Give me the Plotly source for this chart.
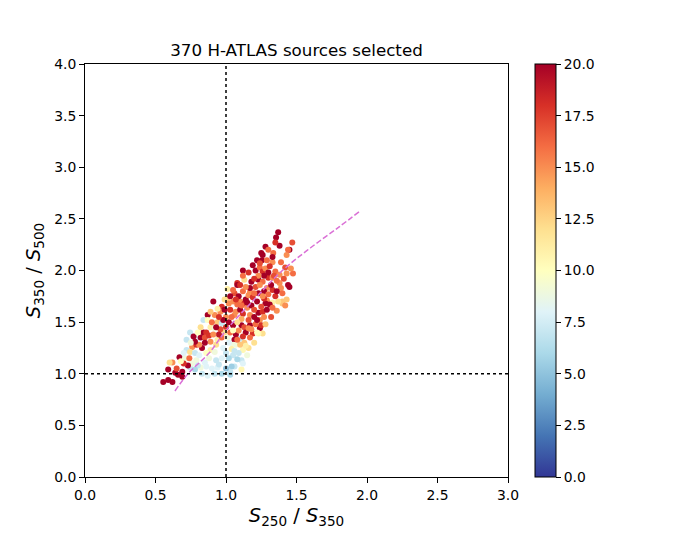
import plotly.graph_objects as go

# S250/S350 colour
x_ratio = [1.37, 1.355, 1.28, 1.47, 1.45, 1.43, 1.44, 1.26, 1.22, 1.255, 1.335, 1.33, 1.12, 1.21, 1.24, 1.26, 1.28, 1.35, 1.38, 1.43,
           1.475, 1.45, 1.44, 1.38, 1.08, 1.13, 1.18, 1.23, 1.26, 1.30, 1.33, 1.29, 1.33, 1.17, 1.23, 1.06, 1.05, 1.10, 1.22, 1.29,
           1.33, 1.40, 1.08, 1.13, 1.28, 1.31, 1.40, 1.42, 1.36, 1.23, 1.26, 1.17, 1.06, 1.24, 1.11, 1.17, 1.05, 1.13, 1.24, 1.26,
           1.19, 1.23, 1.06, 1.10, 1.16, 1.12, 1.05, 1.11, 1.05, 1.06, 1.04, 1.11, 1.03,
           0.91, 0.97, 0.87, 0.92, 0.96, 0.84, 0.87, 0.94, 0.97, 0.89, 0.92, 0.84, 0.86, 0.745, 0.72, 0.79, 0.77, 0.82, 0.85, 0.89,
           0.94, 0.97, 0.76, 0.79, 0.83, 0.72, 0.745, 0.78, 0.89, 0.92, 0.67, 0.71, 0.62, 0.60, 0.79, 0.85, 0.93, 0.745, 0.59, 0.69,
           0.64, 0.82, 0.86, 0.94, 0.555, 0.59, 0.62, 0.66, 0.69, 1.01, 1.08, 1.01,
           1.00, 1.02, 1.04, 1.07, 1.10, 1.12, 1.15, 1.18, 1.20, 1.14, 1.16, 1.19, 1.21, 1.24, 1.27, 1.30, 1.35, 1.32, 1.36, 1.39,
           1.41, 1.27, 1.31, 1.23, 1.20, 1.17, 1.12, 1.09, 1.03, 1.00, 0.98, 0.99, 1.01, 1.03, 1.07, 1.09, 1.14, 1.16, 1.20, 1.21,
           1.27, 1.29, 1.33, 1.25, 1.11, 1.08, 1.05, 1.02, 1.04, 1.07, 1.09, 1.13, 1.17, 1.20, 1.25, 1.18, 0.96, 0.95, 0.93, 0.98,
           1.00, 1.02, 0.97, 0.95, 0.90, 0.88, 0.86, 0.81, 0.80, 0.76, 0.73, 0.70, 0.74, 0.78, 0.83, 0.87, 0.92, 0.97, 1.00, 1.03,
           0.81, 0.85, 0.88, 0.91, 0.93, 0.90, 0.95, 0.99, 1.02, 0.99, 0.94, 0.89, 0.82, 0.80, 0.78, 0.75, 0.70, 0.68, 0.65, 1.12,
           1.16, 1.19, 1.24, 1.29, 1.33, 1.39, 1.42, 1.46, 1.38, 1.35, 1.30, 1.25, 1.40, 1.43, 1.37, 1.32, 1.28, 1.22, 1.15, 1.12,
           1.08, 1.06, 1.14, 1.10, 1.08, 1.12, 1.16, 1.22, 1.27, 1.20, 1.14, 1.10, 1.05, 1.03, 1.07, 1.11, 1.15, 1.26, 1.36, 1.34,
           1.30]

# S350/S500 colour
y_ratio = [2.37, 2.32, 2.23, 2.27, 2.20, 2.15, 2.20, 2.15, 2.10, 2.10, 2.17, 2.08, 2.00, 2.00, 2.03, 1.99, 2.02, 1.99, 1.96, 1.97,
           1.97, 1.84, 1.86, 1.88, 1.88, 1.91, 1.89, 1.91, 1.89, 1.93, 1.93, 1.83, 1.81, 1.79, 1.78, 1.78, 1.70, 1.70, 1.70, 1.71,
           1.69, 1.70, 1.67, 1.68, 1.68, 1.67, 1.68, 1.66, 1.61, 1.59, 1.60, 1.57, 1.57, 1.52, 1.47, 1.47, 1.47, 1.45, 1.44, 1.39,
           1.39, 1.39, 1.33, 1.34, 1.25, 1.23, 1.28, 1.13, 1.18, 1.07, 1.07, 1.04, 1.02,
           1.70, 1.65, 1.57, 1.57, 1.60, 1.52, 1.52, 1.50, 1.49, 1.45, 1.44, 1.40, 1.40, 1.40, 1.33, 1.33, 1.36, 1.35, 1.35, 1.31,
           1.33, 1.35, 1.26, 1.28, 1.25, 1.23, 1.21, 1.20, 1.23, 1.21, 1.16, 1.15, 1.11, 1.11, 1.13, 1.11, 1.13, 1.06, 1.04, 1.02,
           1.01, 1.06, 1.07, 1.06, 0.92, 0.94, 0.92, 0.99, 0.97, 1.73, 1.86, 1.82,
           1.45, 1.50, 1.55, 1.60, 1.62, 1.58, 1.64, 1.66, 1.62, 1.72, 1.76, 1.74, 1.84, 1.86, 1.80, 1.77, 1.75, 1.86, 1.90, 1.83,
           1.92, 1.95, 2.04, 1.95, 1.92, 1.83, 1.80, 1.75, 1.62, 1.55, 1.52, 1.40, 1.35, 1.40, 1.38, 1.42, 1.40, 1.52, 1.55, 1.48,
           1.55, 1.62, 1.64, 1.65, 1.53, 1.50, 1.42, 1.30, 1.24, 1.28, 1.20, 1.30, 1.35, 1.30, 1.47, 1.43, 1.43, 1.38, 1.28, 1.25,
           1.20, 1.15, 1.15, 1.09, 1.05, 1.15, 1.20, 1.18, 1.08, 1.10, 1.08, 1.10, 1.15, 1.04, 1.00, 0.98, 1.00, 1.00, 1.05, 0.99,
           1.28, 1.30, 1.37, 1.38, 1.45, 1.50, 1.55, 1.62, 1.68, 1.72, 1.63, 1.60, 1.45, 1.40, 1.31, 1.30, 1.20, 1.12, 1.05, 1.95,
           1.98, 2.05, 2.07, 2.10, 2.13, 2.08, 2.03, 2.02, 2.24, 2.27, 2.20, 2.17, 1.78, 1.72, 1.70, 1.55, 1.48, 1.40, 1.18, 1.10,
           1.14, 1.22, 1.27, 1.28, 1.33, 1.36, 1.44, 1.52, 1.73, 1.78, 1.84, 1.86, 1.81, 1.75, 1.72, 1.66, 1.69, 1.75, 1.80, 1.95,
           1.98]

# colour-coded quantity (0-20)
c_value = [20, 20, 20, 17, 20, 15, 16, 20, 20, 20, 16, 15, 20, 20, 16, 18, 15, 16, 15, 15,
           16, 20, 20, 15, 18, 12, 20, 20, 16, 18, 15, 15, 18, 15, 20, 17, 15, 15, 20, 15,
           11, 13, 16, 18, 20, 20, 13, 15, 15, 20, 18, 15, 15, 15, 20, 20, 20, 17, 20, 12,
           18, 10.5, 20, 7, 12, 10.5, 9, 7, 7, 7, 5.5, 10.5, 7,
           20, 18, 20, 15, 15, 7, 10, 13, 7, 11, 9, 20, 18, 7, 7, 8, 20, 20, 17, 15,
           11, 16, 15, 18, 20, 7, 12, 7, 11, 9, 20, 9, 15, 12, 9, 8, 7, 7, 20, 20,
           20, 9, 8, 8, 20, 20, 20, 20, 20, 13, 20, 11,
           18, 20, 16, 15, 20, 18, 15, 20, 17, 20, 15, 18, 17, 15, 20, 16, 18, 20, 16, 15,
           17, 20, 18, 15, 18, 20, 16, 20, 18, 15, 20, 12, 9, 16, 20, 15, 20, 17, 20, 16,
           15, 20, 16, 17, 14, 12, 10, 8, 11, 9, 7, 13, 16, 12, 18, 15, 17, 19, 12, 8,
           7, 6, 8, 7, 8, 9, 10, 8, 7, 9, 20, 18, 16, 6, 7, 8, 7, 6, 5, 6,
           15, 20, 18, 15, 20, 16, 18, 20, 15, 12, 11, 13, 12, 10, 20, 9, 8, 10, 17, 16,
           18, 20, 17, 16, 20, 16, 17, 15, 20, 18, 16, 20, 16, 13, 12, 17, 13, 10, 9, 8,
           6, 7, 11, 13, 16, 18, 15, 20, 18, 16, 15, 18, 16, 20, 18, 16, 20, 15, 20, 17,
           20]

# model track (dashed curve)
track_x = [0.638, 0.73, 0.88, 1.0, 1.2, 1.4, 1.6, 1.8, 1.943]
track_y = [0.833, 1.0, 1.2, 1.42, 1.72, 2.0, 2.22, 2.42, 2.567]

n = min(len(x_ratio), len(y_ratio), len(c_value))
x_ratio, y_ratio, c_value = x_ratio[:n], y_ratio[:n], c_value[:n]

FONT = "DejaVu Sans"

fig = go.Figure()
fig.add_trace(go.Scatter(
    x=x_ratio, y=y_ratio, mode="markers",
    marker=dict(size=6, color=c_value, colorscale="RdYlBu", reversescale=True,
                cmin=0, cmax=20, line=dict(width=0),
                colorbar=dict(x=1.064, xanchor="left", xpad=0, ypad=0, y=0.5, yanchor="middle",
                              len=1, lenmode="fraction",
                              thickness=21, outlinecolor="black", outlinewidth=1,
                              tickvals=[0, 2.5, 5, 7.5, 10, 12.5, 15, 17.5, 20], tickformat=".1f",
                              ticks="outside", ticklen=5, tickcolor="black",
                              tickfont=dict(family=FONT, size=13.9, color="black"))),
    showlegend=False, hoverinfo="skip"))

fig.add_trace(go.Scatter(x=track_x, y=track_y, mode="lines",
                         line=dict(color="orchid", width=1.5, dash="5.5px,2.4px", shape="spline"),
                         showlegend=False, hoverinfo="skip"))

fig.add_shape(type="line", xref="x", yref="paper", x0=1, x1=1, y0=0, y1=1,
              line=dict(color="black", width=1.5, dash="dot"))
fig.add_shape(type="line", xref="paper", yref="y", x0=0, x1=1, y0=1, y1=1,
              line=dict(color="black", width=1.5, dash="dot"))

axis_common = dict(showline=True, mirror=True, linecolor="black", linewidth=1, ticks="outside",
                   ticklen=5, tickcolor="black", showgrid=False, zeroline=False, tickformat=".1f",
                   tickfont=dict(family=FONT, size=13.9, color="black"))

fig.update_layout(
    width=682, height=536,
    margin=dict(l=85, r=174, t=64, b=59),
    paper_bgcolor="white", plot_bgcolor="white",
    font=dict(family=FONT, color="black"),
    xaxis=dict(range=[0, 3], dtick=0.5, **axis_common,
               title=dict(text="<i>S</i><sub>250</sub> / <i>S</i><sub>350</sub>",
                          font=dict(family=FONT, size=19.4), standoff=6)),
    yaxis=dict(range=[0, 4], dtick=0.5, **axis_common,
               title=dict(text="<i>S</i><sub>350</sub> / <i>S</i><sub>500</sub>",
                          font=dict(family=FONT, size=19.4), standoff=8)),
    title=dict(text="370 H-ATLAS sources selected", x=(85 + 508) / 2 / 682, xanchor="center",
               y=1 - 50 / 536, yanchor="middle", font=dict(family=FONT, size=16.7, color="black")),
)

fig.write_html("out.html")
